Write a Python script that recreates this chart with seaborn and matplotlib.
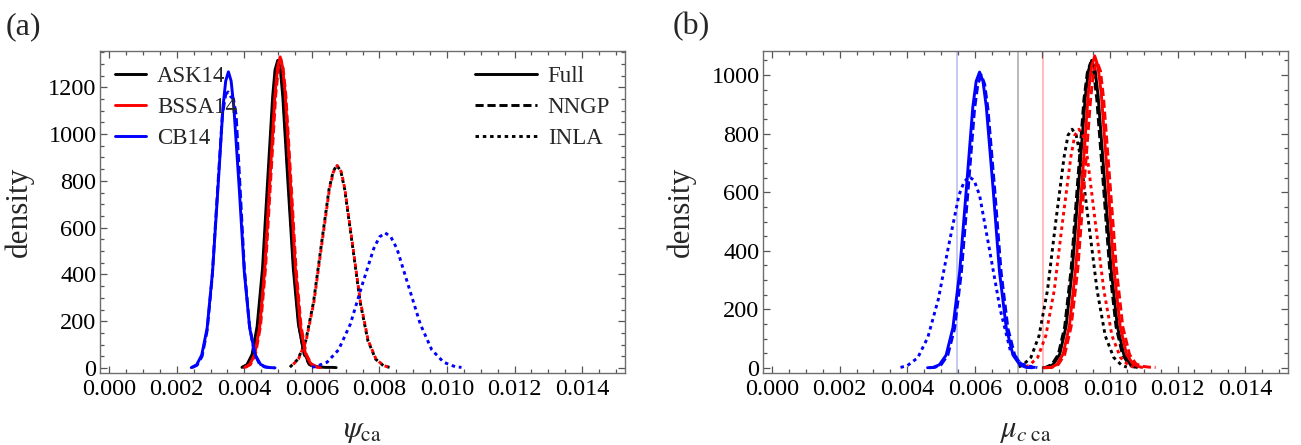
import pandas as pd
import seaborn as sns
import matplotlib.pyplot as plt
from matplotlib.lines import Line2D
from matplotlib.ticker import MultipleLocator, FormatStrFormatter

# ---- data (panel a: psi_ca, panel b: mu_c ca) ----
models = ["ASK14", "BSSA14", "CB14"]
methods = ["Full", "NNGP", "INLA"]

# panel (a)
a_ask_full_x = [0.00393, 0.00408, 0.00423, 0.00438, 0.00454, 0.00469, 0.00484, 0.00491, 0.00499, 0.00507,
                0.00514, 0.00529, 0.00545, 0.00560, 0.00575, 0.00590, 0.00605, 0.00620, 0.00640, 0.00660,
                0.00672]
a_ask_full_y = [3, 15, 58, 178, 427, 798, 1160, 1274, 1315, 1274, 1160, 798, 427, 190, 75, 25, 10, 5, 3, 3, 2]
a_ask_nngp_x = [0.00395, 0.00410, 0.00425, 0.00440, 0.00456, 0.00471, 0.00486, 0.00493, 0.00501, 0.00509,
                0.00516, 0.00531, 0.00547, 0.00562, 0.00577, 0.00592, 0.00607]
a_ask_nngp_y = [3, 14, 57, 177, 424, 792, 1152, 1265, 1305, 1265, 1150, 790, 424, 180, 60, 16, 4]
a_ask_inla_x = [0.00535, 0.00559, 0.00582, 0.00605, 0.00628, 0.00651, 0.00663, 0.00674, 0.00686, 0.00697,
                0.00720, 0.00743, 0.00766, 0.00789, 0.00812, 0.00830]
a_ask_inla_y = [4, 38, 117, 282, 526, 765, 840, 867, 840, 765, 526, 282, 117, 38, 10, 3]

a_bssa_full_x = [0.00401, 0.00416, 0.00431, 0.00446, 0.00461, 0.00476, 0.00491, 0.00499, 0.00506, 0.00513,
                 0.00521, 0.00536, 0.00551, 0.00566, 0.00581, 0.00596, 0.00611, 0.00625]
a_bssa_full_y = [3, 15, 58, 180, 432, 807, 1174, 1289, 1330, 1289, 1174, 807, 432, 180, 62, 20, 6, 2]
a_bssa_nngp_x = [0.00403, 0.00418, 0.00433, 0.00448, 0.00463, 0.00478, 0.00493, 0.00501, 0.00508, 0.00515,
                 0.00523, 0.00538, 0.00553, 0.00568, 0.00583, 0.00598, 0.00613, 0.00628]
a_bssa_nngp_y = [3, 15, 58, 179, 429, 802, 1167, 1281, 1322, 1281, 1167, 802, 429, 179, 60, 18, 5, 2]
a_bssa_inla_x = [0.00537, 0.00560, 0.00583, 0.00606, 0.00629, 0.00652, 0.00664, 0.00675, 0.00687, 0.00698,
                 0.00721, 0.00744, 0.00767, 0.00790, 0.00813, 0.00832]
a_bssa_inla_y = [5, 38, 117, 281, 525, 764, 839, 866, 839, 764, 525, 281, 117, 38, 10, 3]

a_cb_full_x = [0.00243, 0.00259, 0.00274, 0.00290, 0.00306, 0.00322, 0.00337, 0.00345, 0.00353, 0.00361,
               0.00369, 0.00385, 0.00400, 0.00416, 0.00432, 0.00448, 0.00463, 0.00478, 0.00491]
a_cb_full_y = [2, 14, 56, 171, 411, 768, 1117, 1227, 1266, 1227, 1117, 768, 411, 171, 58, 16, 5, 2, 1]
a_cb_nngp_x = [0.00245, 0.00260, 0.00275, 0.00290, 0.00305, 0.00320, 0.00335, 0.00345, 0.00352, 0.00360,
               0.00368, 0.00376, 0.00388, 0.00400, 0.00415, 0.00430, 0.00445, 0.00460, 0.00475, 0.00490]
a_cb_nngp_y = [2, 12, 50, 160, 390, 740, 1080, 1170, 1180, 1160, 1150, 1080, 760, 430, 185, 62, 17, 5, 2, 1]
a_cb_inla_x = [0.00600, 0.00610, 0.00645, 0.00679, 0.00714, 0.00748, 0.00783, 0.00800, 0.00817, 0.00834,
               0.00852, 0.00886, 0.00921, 0.00955, 0.00990, 0.01024, 0.01043]
a_cb_inla_y = [4, 6, 25, 78, 188, 351, 510, 560, 578, 560, 510, 351, 188, 78, 25, 6, 3]

# panel (b)
b_ask_full_x = [0.00805, 0.00813, 0.00832, 0.00851, 0.00870, 0.00889, 0.00908, 0.00927, 0.00937, 0.00946,
                0.00956, 0.00965, 0.00984, 0.01003, 0.01022, 0.01041, 0.01060, 0.01079]
b_ask_full_y = [1, 2, 12, 46, 142, 341, 637, 927, 1018, 1050, 1018, 927, 637, 341, 142, 46, 12, 2]
b_ask_nngp_x = [0.00801, 0.00809, 0.00828, 0.00847, 0.00866, 0.00885, 0.00904, 0.00923, 0.00933, 0.00942,
                0.00952, 0.00961, 0.00980, 0.00999, 0.01018, 0.01037, 0.01056, 0.01075]
b_ask_nngp_y = [1, 2, 12, 46, 141, 338, 631, 918, 1008, 1040, 1008, 918, 631, 338, 141, 46, 12, 2]
b_ask_inla_x = [0.00730, 0.00741, 0.00766, 0.00790, 0.00815, 0.00839, 0.00864, 0.00876, 0.00888, 0.00900,
                0.00913, 0.00937, 0.00962, 0.00986, 0.01011, 0.01035, 0.01050]
b_ask_inla_y = [4, 9, 36, 110, 265, 494, 719, 795, 815, 795, 719, 494, 265, 110, 36, 9, 3]

b_bssa_full_x = [0.00805, 0.00825, 0.00843, 0.00861, 0.00880, 0.00899, 0.00918, 0.00936, 0.00946, 0.00955,
                 0.00964, 0.00974, 0.00993, 0.01011, 0.01030, 0.01049, 0.01068, 0.01085, 0.01095]
b_bssa_full_y = [1, 2, 12, 47, 144, 346, 646, 940, 1032, 1065, 1032, 940, 646, 346, 144, 47, 14, 5, 2]
b_bssa_nngp_x = [0.00810, 0.00828, 0.00847, 0.00866, 0.00885, 0.00905, 0.00924, 0.00943, 0.00952, 0.00962,
                 0.00972, 0.00981, 0.01000, 0.01019, 0.01038, 0.01058, 0.01077, 0.01096, 0.01115, 0.01135]
b_bssa_nngp_y = [1, 2, 12, 46, 141, 340, 634, 922, 1013, 1045, 1013, 922, 634, 340, 141, 46, 14, 6, 3, 2]
b_bssa_inla_x = [0.00750, 0.00761, 0.00786, 0.00810, 0.00835, 0.00859, 0.00884, 0.00896, 0.00908, 0.00920,
                 0.00933, 0.00957, 0.00982, 0.01006, 0.01031, 0.01055, 0.01070]
b_bssa_inla_y = [4, 9, 36, 110, 265, 494, 719, 795, 815, 795, 719, 494, 265, 110, 36, 9, 3]

b_cb_full_x = [0.00460, 0.00476, 0.00495, 0.00515, 0.00535, 0.00555, 0.00575, 0.00594, 0.00604, 0.00614,
               0.00624, 0.00634, 0.00654, 0.00673, 0.00693, 0.00713, 0.00733, 0.00752, 0.00770]
b_cb_full_y = [1, 2, 11, 44, 137, 328, 613, 891, 979, 1010, 979, 891, 613, 328, 137, 44, 11, 2, 1]
b_cb_nngp_x = [0.00465, 0.00481, 0.00500, 0.00520, 0.00540, 0.00560, 0.00580, 0.00599, 0.00609, 0.00619,
               0.00629, 0.00639, 0.00659, 0.00678, 0.00698, 0.00718, 0.00738, 0.00757, 0.00780]
b_cb_nngp_y = [1, 2, 11, 44, 135, 325, 607, 882, 969, 1000, 969, 882, 607, 325, 135, 44, 12, 4, 2]
b_cb_inla_x = [0.00380, 0.00400, 0.00431, 0.00461, 0.00492, 0.00522, 0.00553, 0.00568, 0.00583, 0.00598,
               0.00614, 0.00644, 0.00675, 0.00705, 0.00736, 0.00766, 0.00785]
b_cb_inla_y = [2, 8, 35, 105, 235, 415, 590, 635, 653, 640, 590, 400, 200, 60, 15, 5, 2]

# reference lines in panel (b)
b_vline_x = [0.00548, 0.00728, 0.00803]
b_vline_colors = ["#b4bcf2", "#a6a6a6", "#ffaaaa"]


def build_frame(curves):
    parts = []
    for (model, method), (xs, ys) in curves.items():
        parts.append(pd.DataFrame({"x": xs, "density": ys, "model": model, "method": method}))
    return pd.concat(parts, ignore_index=True)


df_a = build_frame({
    ("ASK14", "Full"): (a_ask_full_x, a_ask_full_y),
    ("ASK14", "NNGP"): (a_ask_nngp_x, a_ask_nngp_y),
    ("ASK14", "INLA"): (a_ask_inla_x, a_ask_inla_y),
    ("BSSA14", "Full"): (a_bssa_full_x, a_bssa_full_y),
    ("BSSA14", "NNGP"): (a_bssa_nngp_x, a_bssa_nngp_y),
    ("BSSA14", "INLA"): (a_bssa_inla_x, a_bssa_inla_y),
    ("CB14", "Full"): (a_cb_full_x, a_cb_full_y),
    ("CB14", "NNGP"): (a_cb_nngp_x, a_cb_nngp_y),
    ("CB14", "INLA"): (a_cb_inla_x, a_cb_inla_y),
})
df_b = build_frame({
    ("ASK14", "Full"): (b_ask_full_x, b_ask_full_y),
    ("ASK14", "NNGP"): (b_ask_nngp_x, b_ask_nngp_y),
    ("ASK14", "INLA"): (b_ask_inla_x, b_ask_inla_y),
    ("BSSA14", "Full"): (b_bssa_full_x, b_bssa_full_y),
    ("BSSA14", "NNGP"): (b_bssa_nngp_x, b_bssa_nngp_y),
    ("BSSA14", "INLA"): (b_bssa_inla_x, b_bssa_inla_y),
    ("CB14", "Full"): (b_cb_full_x, b_cb_full_y),
    ("CB14", "NNGP"): (b_cb_nngp_x, b_cb_nngp_y),
    ("CB14", "INLA"): (b_cb_inla_x, b_cb_inla_y),
})

# ---- style ----
sns.set_theme(style="white")
plt.rcParams["font.family"] = ["Liberation Serif", "DejaVu Serif"]
plt.rcParams["mathtext.fontset"] = "stix"
plt.rcParams["lines.solid_joinstyle"] = "round"
plt.rcParams["lines.dash_joinstyle"] = "round"

palette = {"ASK14": "#000000", "BSSA14": "#ff0000", "CB14": "#0000ff"}
dashes = {"Full": "", "NNGP": (2.8, 1.3), "INLA": (1.2, 1.3)}
LW = 2.1
TICK_FS = 17.5
LEG_FS = 16.5

fig = plt.figure(figsize=(13.01, 4.45), dpi=100)
ax_a = fig.add_axes([0.0769, 0.1618, 0.4035, 0.7236])
ax_b = fig.add_axes([0.5865, 0.1618, 0.4035, 0.7236])

for ax, df in [(ax_a, df_a), (ax_b, df_b)]:
    sns.lineplot(data=df, x="x", y="density", hue="model", style="method",
                 hue_order=models, style_order=methods, palette=palette,
                 dashes=dashes, sort=False, estimator=None, lw=LW,
                 legend=False, ax=ax)

# the two INLA curves of panel (a) coincide: shift the red dash phase so the black shows through
ax_a.lines[5].set_linestyle((1.25, dashes["INLA"]))

for xv, c in zip(b_vline_x, b_vline_colors):
    ax_b.axvline(xv, color=c, lw=1.1, zorder=0)

ax_a.set_ylim(-21, 1355)
ax_b.set_ylim(-17, 1082)

for ax in (ax_a, ax_b):
    ax.set_xlim(-0.00027, 0.01527)
    ax.xaxis.set_major_locator(MultipleLocator(0.002))
    ax.xaxis.set_minor_locator(MultipleLocator(0.0005))
    ax.xaxis.set_major_formatter(FormatStrFormatter("%.3f"))
    ax.yaxis.set_major_locator(MultipleLocator(200))
    ax.yaxis.set_minor_locator(MultipleLocator(50))
    ax.tick_params(which="both", direction="in", top=True, right=True,
                   bottom=True, left=True, color="#555555", width=0.9,
                   labelsize=TICK_FS, labelcolor="black")
    ax.tick_params(which="major", length=5)
    ax.tick_params(which="minor", length=2.8)
    ax.tick_params(axis="x", which="major", pad=4)
    ax.tick_params(axis="y", which="major", pad=2.5)
    for sp in ax.spines.values():
        sp.set_color("#6e6e6e")
        sp.set_linewidth(1.0)
    ax.set_ylabel("density", fontsize=22.5)
    ax.yaxis.set_label_coords(-0.127, 0.5)

ax_a.set_xlabel(r"$\psi_{\mathrm{ca}}$", fontsize=22)
ax_b.set_xlabel(r"$\mu_{c\ \mathrm{ca}}$", fontsize=22)
for ax in (ax_a, ax_b):
    ax.xaxis.set_label_coords(0.5, -0.135)

# legends in panel (a)
model_handles = [Line2D([], [], color=palette[m], lw=LW) for m in models]
leg1 = ax_a.legend(model_handles, models, loc="upper left", bbox_to_anchor=(0.028, 0.955),
                   frameon=False, fontsize=LEG_FS, handlelength=1.35, handletextpad=0.5,
                   labelspacing=0.45, borderpad=0, borderaxespad=0)
ax_a.add_artist(leg1)
method_handles = [Line2D([], [], color="black", lw=LW,
                         linestyle="-" if dashes[m] == "" else (0, dashes[m])) for m in methods]
ax_a.legend(method_handles, methods, loc="upper left", bbox_to_anchor=(0.714, 0.955),
            frameon=False, fontsize=LEG_FS, handlelength=2.7, handletextpad=0.48,
            labelspacing=0.45, borderpad=0, borderaxespad=0)

fig.text(6 / 1301, 1 - 27 / 445, "(a)", fontsize=23, ha="left", va="center")
fig.text(673 / 1301, 1 - 27 / 445, "(b)", fontsize=23, ha="left", va="center")

fig.savefig("out.png", dpi=100)
